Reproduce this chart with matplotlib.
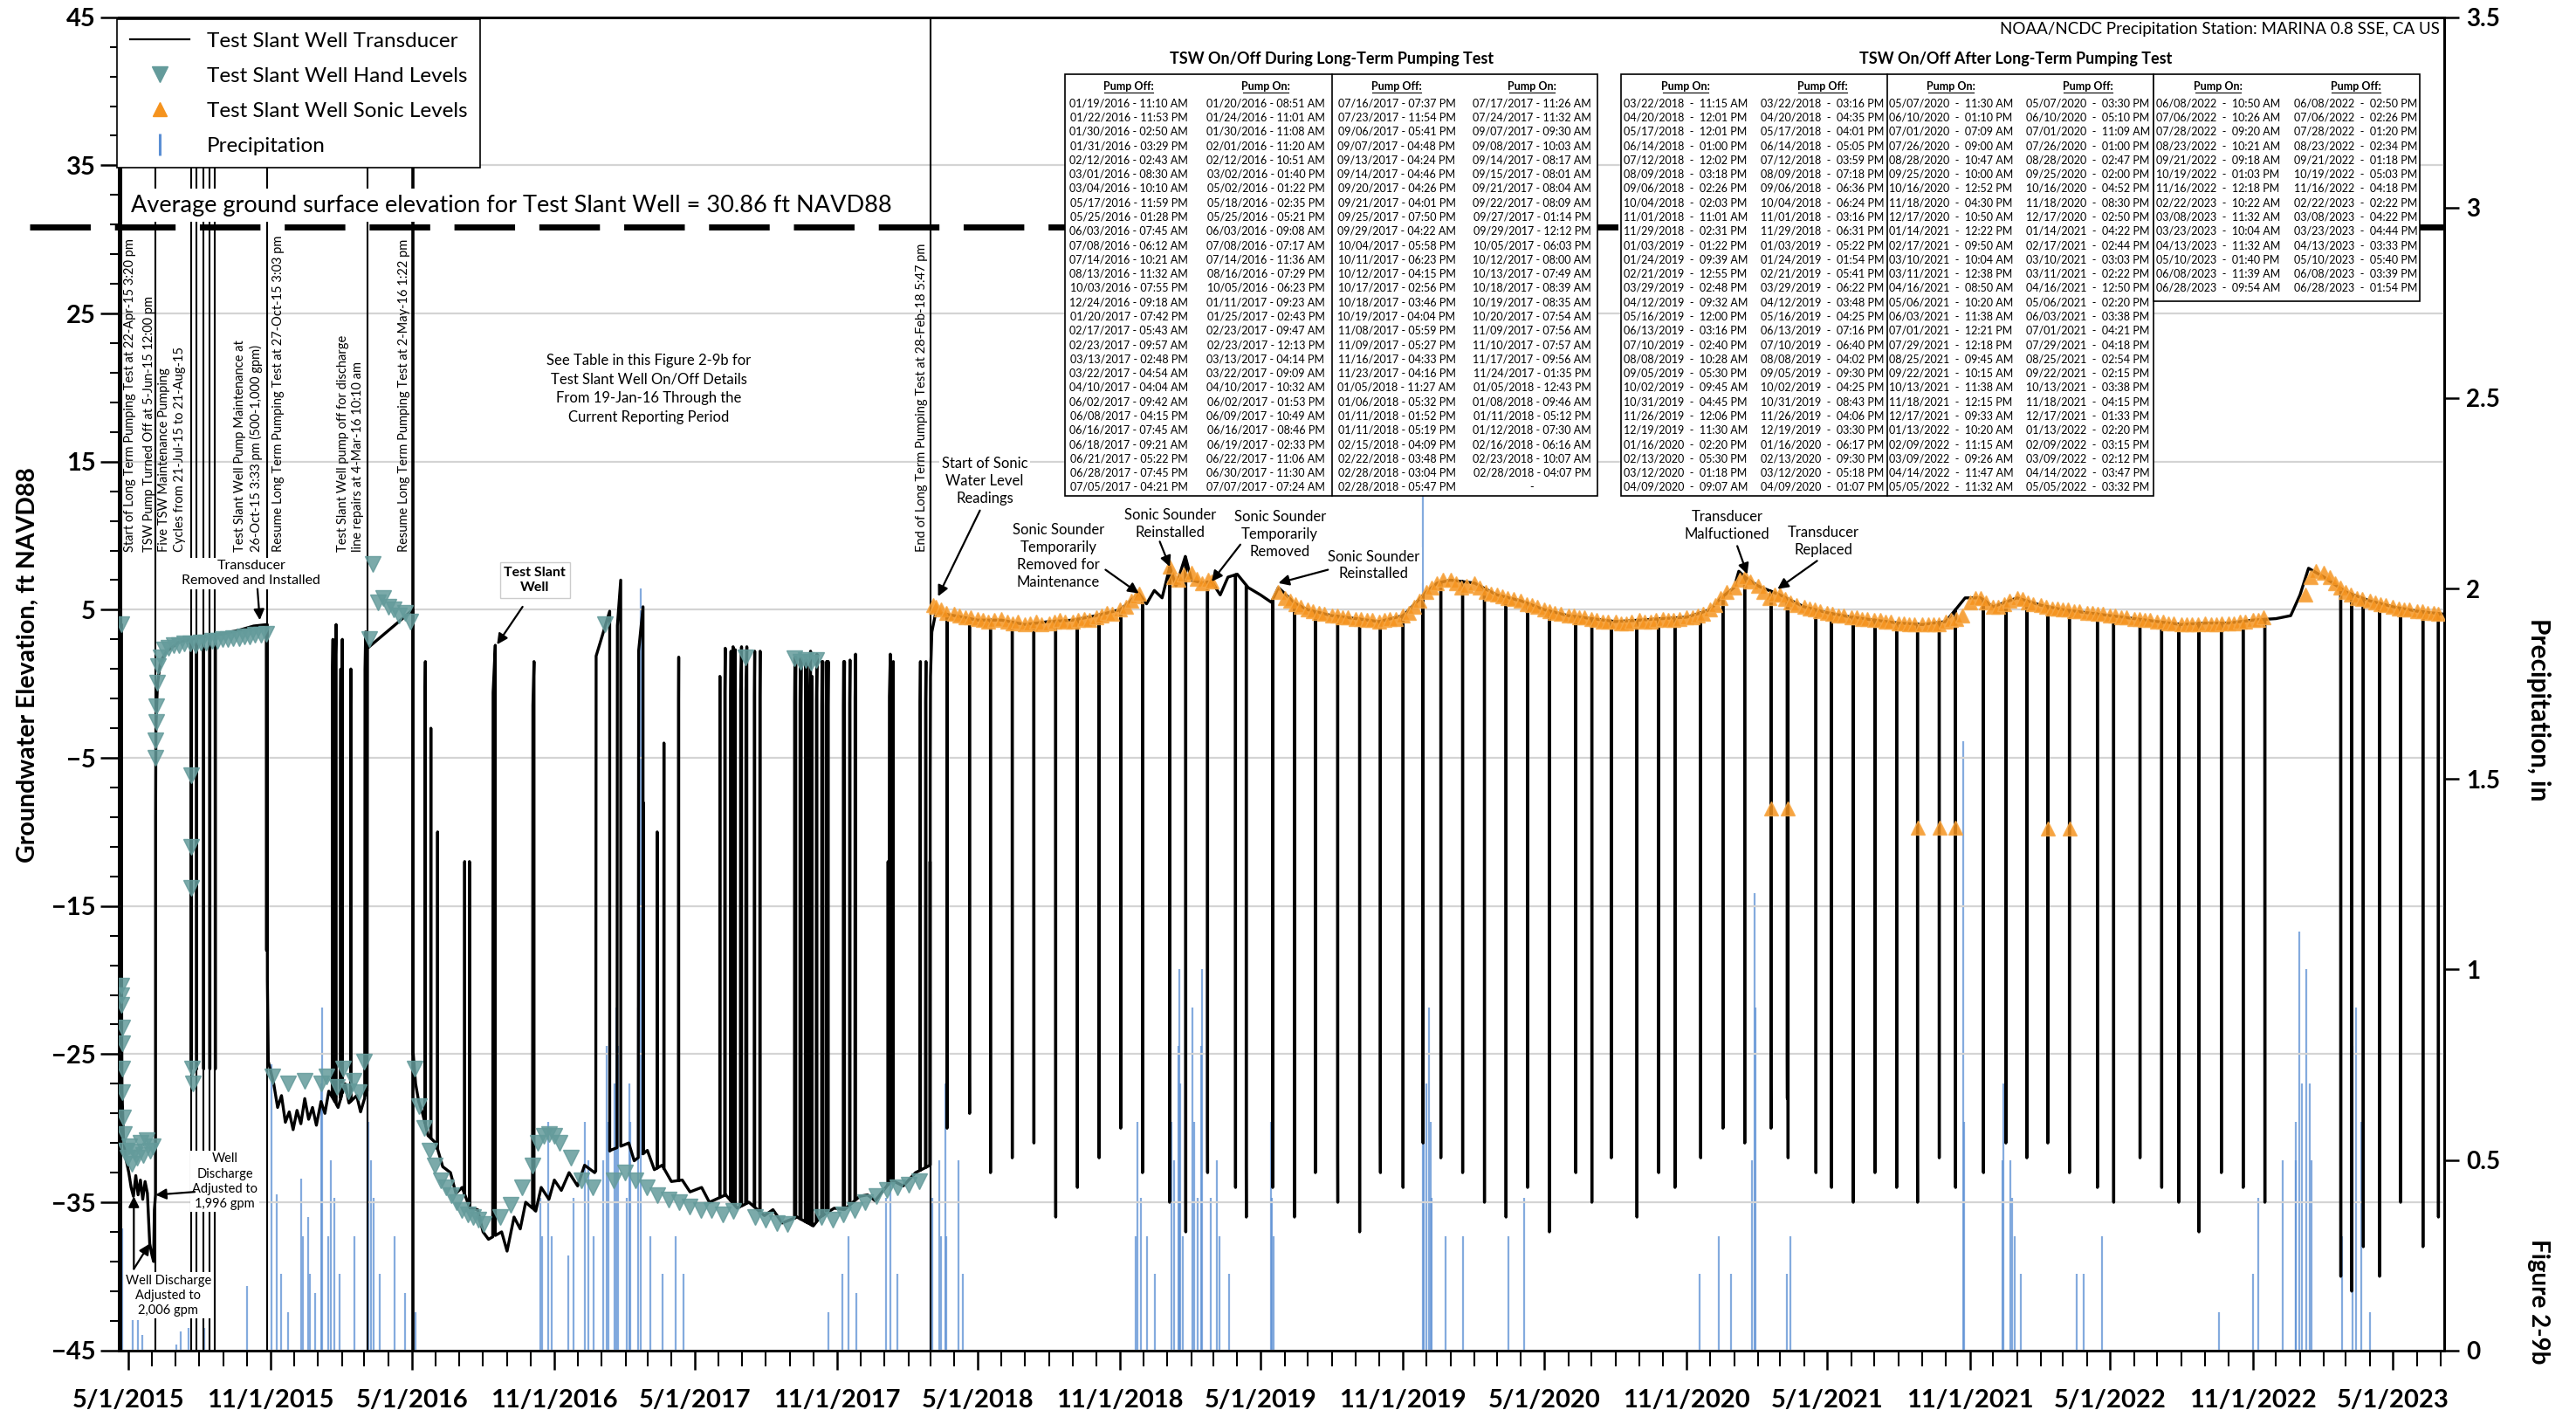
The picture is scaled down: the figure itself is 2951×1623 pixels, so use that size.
import matplotlib
matplotlib.use("Agg")
import matplotlib.pyplot as plt
import matplotlib.dates as mdates
import matplotlib.ticker as mticker
from matplotlib.lines import Line2D
from matplotlib.patches import Rectangle
import numpy as np
import pandas as pd

plt.rcParams['font.family'] = ['Lato', 'DejaVu Sans']

W, H = 2951, 1623

# ---------------- transducer baseline, ft NAVD88 ----------------
tsw_dates = [
    "2015-04-19", "2015-04-22 15:00", "2015-04-22 19:00", "2015-04-23 06:00", "2015-04-25", "2015-04-28",
    "2015-05-02", "2015-05-05", "2015-05-08", "2015-05-11", "2015-05-14", "2015-05-17", "2015-05-20",
    "2015-05-23", "2015-05-26", "2015-05-29", "2015-06-01", "2015-06-03", "2015-06-04", "2015-06-05 11:00",
    "2015-06-05 14:00", "2015-06-06", "2015-06-08", "2015-06-12", "2015-06-20", "2015-07-05", "2015-07-20",
    "2015-08-10", "2015-09-01", "2015-09-20", "2015-10-10", "2015-10-27 15:00", "2015-10-27 19:00",
    "2015-10-29", "2015-11-05", "2015-11-10", "2015-11-15", "2015-11-20", "2015-11-25", "2015-11-30",
    "2015-12-05", "2015-12-10", "2015-12-15", "2015-12-20", "2015-12-25", "2015-12-30",
    "2016-01-05", "2016-01-10", "2016-01-15", "2016-01-27", "2016-02-05", "2016-02-10", "2016-02-20",
    "2016-02-25", "2016-03-04", "2016-05-03", "2016-05-06", "2016-05-10",
    "2016-05-15", "2016-05-22", "2016-06-01", "2016-06-10", "2016-06-20", "2016-06-27", "2016-07-05",
    "2016-07-15", "2016-07-25", "2016-08-01", "2016-08-08", "2016-08-25", "2016-09-01",
    "2016-09-10", "2016-09-18", "2016-09-25", "2016-10-08", "2016-10-15", "2016-10-25", "2016-11-01",
    "2016-11-10", "2016-11-20", "2016-12-01", "2016-12-10", "2016-12-23",
    "2017-01-12", "2017-02-05", "2017-02-12", "2017-03-01", "2017-03-10", "2017-03-20", "2017-04-01",
    "2017-04-15", "2017-04-25", "2017-05-10", "2017-05-20", "2017-06-10", "2017-06-25", "2017-07-10",
    "2017-07-30", "2017-08-10", "2017-08-22", "2017-09-10", "2017-10-01", "2017-10-10", "2017-10-28",
    "2017-11-10", "2017-11-30", "2017-12-10", "2017-12-20", "2018-01-10", "2018-01-25",
    "2018-02-10", "2018-02-28 17:45", "2018-02-28 21:00", "2018-03-01 06:00", "2018-03-03", "2018-03-08",
    "2018-04-01", "2018-05-01", "2018-06-01", "2018-07-01", "2018-08-01", "2018-09-01", "2018-10-01",
    "2018-11-01", "2018-11-25", "2018-12-05", "2018-12-15", "2018-12-25", "2019-01-04", "2019-01-12",
    "2019-01-24", "2019-02-01", "2019-02-15", "2019-02-27", "2019-03-10", "2019-03-20", "2019-04-01",
    "2019-04-15", "2019-05-01", "2019-05-15", "2019-05-24", "2019-06-15", "2019-07-01", "2019-08-01",
    "2019-09-01", "2019-10-01", "2019-11-01", "2019-12-01", "2019-12-15", "2020-01-01", "2020-02-01",
    "2020-03-01", "2020-04-01", "2020-05-01", "2020-06-01", "2020-07-01", "2020-08-01", "2020-09-01",
    "2020-10-01", "2020-11-01", "2020-12-01", "2020-12-15", "2021-01-01", "2021-01-07", "2021-01-15",
    "2021-02-01", "2021-03-01", "2021-04-01", "2021-05-01", "2021-06-01", "2021-07-01", "2021-08-01",
    "2021-09-01", "2021-10-01", "2021-10-26", "2021-11-15", "2021-12-01", "2022-01-01", "2022-02-01",
    "2022-03-01", "2022-04-01", "2022-05-01", "2022-06-01", "2022-07-01", "2022-08-01", "2022-09-01",
    "2022-10-01", "2022-11-01", "2022-12-01", "2022-12-20", "2023-01-01", "2023-01-12", "2023-02-01",
    "2023-03-01", "2023-04-01", "2023-05-01", "2023-06-01", "2023-07-06"]
tsw_levels = [
    4.0, 4.0, -22.0, -27.5, -30.5, -32.0,
    -33.0, -34.0, -34.6, -33.2, -34.5, -33.5, -34.8,
    -33.6, -34.4, -37.8, -38.6, -39.0, -35.5, -34.5,
    -9.0, -3.0, 0.0, 1.5, 2.2, 2.8, 3.0,
    3.2, 3.4, 3.6, 3.9, 4.0, -20.0,
    -25.5, -27.0, -28.6, -27.8, -29.6, -28.9, -30.1,
    -28.8, -29.7, -28.0, -29.4, -28.6, -29.8,
    -28.2, -29.0, -27.5, -28.6, -27.0, -28.3, -27.8,
    -28.9, -27.5, -25.0, -27.0, -28.2,
    -29.0, -30.5, -31.0, -32.6, -33.0, -34.4, -34.0,
    -35.4, -35.5, -37.0, -37.5, -37.0, -38.3,
    -36.0, -36.8, -35.0, -35.6, -34.0, -34.8, -33.5,
    -34.2, -33.0, -33.9, -32.5, -33.0,
    -31.5, -31.0, -32.2, -31.5, -32.8, -32.5, -33.6,
    -33.5, -34.3, -34.0, -35.0, -34.5, -35.4, -35.0,
    -35.9, -35.5, -36.4, -36.0, -36.6, -36.0, -35.4,
    -35.5, -34.6, -34.5, -34.9, -33.5, -33.9,
    -33.0, -32.5, -6.0, 0.5, 3.5, 4.8,
    4.6, 4.3, 4.3, 4.0, 4.2, 4.3, 4.6,
    5.0, 6.1, 5.4, 6.3, 5.8, 7.9, 6.6,
    8.6, 7.0, 6.8, 6.9, 6.0, 7.2, 7.4,
    6.5, 6.0, 5.5, 6.5, 5.4, 5.0, 4.6,
    4.4, 4.2, 4.6, 6.2, 6.8, 7.0, 6.8,
    6.0, 5.6, 5.0, 4.6, 4.4, 4.2, 4.3,
    4.4, 4.5, 5.0, 5.8, 6.5, 7.6, 7.2,
    6.6, 6.0, 5.2, 4.8, 4.5, 4.3, 4.1,
    4.0, 4.2, 5.8, 5.8, 5.2, 5.8, 5.3,
    5.0, 4.8, 4.6, 4.4, 4.2, 4.0, 4.1,
    4.1, 4.3, 4.4, 4.6, 6.0, 7.8, 7.2,
    6.2, 5.6, 5.2, 4.9, 4.7]

# ---------------- pump on/off tables ----------------
t1_off_a = ["01/19/2016 - 11:10 AM", "01/22/2016 - 11:53 PM", "01/30/2016 - 02:50 AM", "01/31/2016 - 03:29 PM",
            "02/12/2016 - 02:43 AM", "03/01/2016 - 08:30 AM", "03/04/2016 - 10:10 AM", "05/17/2016 - 11:59 PM",
            "05/25/2016 - 01:28 PM", "06/03/2016 - 07:45 AM", "07/08/2016 - 06:12 AM", "07/14/2016 - 10:21 AM",
            "08/13/2016 - 11:32 AM", "10/03/2016 - 07:55 PM", "12/24/2016 - 09:18 AM", "01/20/2017 - 07:42 PM",
            "02/17/2017 - 05:43 AM", "02/23/2017 - 09:57 AM", "03/13/2017 - 02:48 PM", "03/22/2017 - 04:54 AM",
            "04/10/2017 - 04:04 AM", "06/02/2017 - 09:42 AM", "06/08/2017 - 04:15 PM", "06/16/2017 - 07:45 AM",
            "06/18/2017 - 09:21 AM", "06/21/2017 - 05:22 PM", "06/28/2017 - 07:45 PM", "07/05/2017 - 04:21 PM"]
t1_on_a = ["01/20/2016 - 08:51 AM", "01/24/2016 - 11:01 AM", "01/30/2016 - 11:08 AM", "02/01/2016 - 11:20 AM",
           "02/12/2016 - 10:51 AM", "03/02/2016 - 01:40 PM", "05/02/2016 - 01:22 PM", "05/18/2016 - 02:35 PM",
           "05/25/2016 - 05:21 PM", "06/03/2016 - 09:08 AM", "07/08/2016 - 07:17 AM", "07/14/2016 - 11:36 AM",
           "08/16/2016 - 07:29 PM", "10/05/2016 - 06:23 PM", "01/11/2017 - 09:23 AM", "01/25/2017 - 02:43 PM",
           "02/23/2017 - 09:47 AM", "02/23/2017 - 12:13 PM", "03/13/2017 - 04:14 PM", "03/22/2017 - 09:09 AM",
           "04/10/2017 - 10:32 AM", "06/02/2017 - 01:53 PM", "06/09/2017 - 10:49 AM", "06/16/2017 - 08:46 PM",
           "06/19/2017 - 02:33 PM", "06/22/2017 - 11:06 AM", "06/30/2017 - 11:30 AM", "07/07/2017 - 07:24 AM"]
t1_off_b = ["07/16/2017 - 07:37 PM", "07/23/2017 - 11:54 PM", "09/06/2017 - 05:41 PM", "09/07/2017 - 04:48 PM",
            "09/13/2017 - 04:24 PM", "09/14/2017 - 04:46 PM", "09/20/2017 - 04:26 PM", "09/21/2017 - 04:01 PM",
            "09/25/2017 - 07:50 PM", "09/29/2017 - 04:22 AM", "10/04/2017 - 05:58 PM", "10/11/2017 - 06:23 PM",
            "10/12/2017 - 04:15 PM", "10/17/2017 - 02:56 PM", "10/18/2017 - 03:46 PM", "10/19/2017 - 04:04 PM",
            "11/08/2017 - 05:59 PM", "11/09/2017 - 05:27 PM", "11/16/2017 - 04:33 PM", "11/23/2017 - 04:16 PM",
            "01/05/2018 - 11:27 AM", "01/06/2018 - 05:32 PM", "01/11/2018 - 01:52 PM", "01/11/2018 - 05:19 PM",
            "02/15/2018 - 04:09 PM", "02/22/2018 - 03:48 PM", "02/28/2018 - 03:04 PM", "02/28/2018 - 05:47 PM"]
t1_on_b = ["07/17/2017 - 11:26 AM", "07/24/2017 - 11:32 AM", "09/07/2017 - 09:30 AM", "09/08/2017 - 10:03 AM",
           "09/14/2017 - 08:17 AM", "09/15/2017 - 08:01 AM", "09/21/2017 - 08:04 AM", "09/22/2017 - 08:09 AM",
           "09/27/2017 - 01:14 PM", "09/29/2017 - 12:12 PM", "10/05/2017 - 06:03 PM", "10/12/2017 - 08:00 AM",
           "10/13/2017 - 07:49 AM", "10/18/2017 - 08:39 AM", "10/19/2017 - 08:35 AM", "10/20/2017 - 07:54 AM",
           "11/09/2017 - 07:56 AM", "11/10/2017 - 07:57 AM", "11/17/2017 - 09:56 AM", "11/24/2017 - 01:35 PM",
           "01/05/2018 - 12:43 PM", "01/08/2018 - 09:46 AM", "01/11/2018 - 05:12 PM", "01/12/2018 - 07:30 AM",
           "02/16/2018 - 06:16 AM", "02/23/2018 - 10:07 AM", "02/28/2018 - 04:07 PM", "-"]
# level reached before each pump restart (ft)
rec_peak = [3.0, 4.0, 1.0, 3.0, 1.0, 3.5, 5.0, 1.5, -3.0, -10.0, -12.0, -12.0, 2.6, 1.5, 4.9, 7.0,
            5.2, -8.0, -10.0, -4.0, 1.8, 0.5, 2.4, 2.2, 2.5, 2.3, 2.5, 2.5,
            2.2, 2.2, 1.8, 1.8, 1.7, 1.7, 1.6, 1.6, 2.2, 0.5, 2.0, 1.5, 1.5, 1.5, 1.5, 1.5,
            1.5, 1.5, 1.6, 2.0, -12.0, 2.0, -3.0, 1.5, 1.5, 1.5, -12.0]

t2_on_a = ["03/22/2018 - 11:15 AM", "04/20/2018 - 12:01 PM", "05/17/2018 - 12:01 PM", "06/14/2018 - 01:00 PM",
           "07/12/2018 - 12:02 PM", "08/09/2018 - 03:18 PM", "09/06/2018 - 02:26 PM", "10/04/2018 - 02:03 PM",
           "11/01/2018 - 11:01 AM", "11/29/2018 - 02:31 PM", "01/03/2019 - 01:22 PM", "01/24/2019 - 09:39 AM",
           "02/21/2019 - 12:55 PM", "03/29/2019 - 02:48 PM", "04/12/2019 - 09:32 AM", "05/16/2019 - 12:00 PM",
           "06/13/2019 - 03:16 PM", "07/10/2019 - 02:40 PM", "08/08/2019 - 10:28 AM", "09/05/2019 - 05:30 PM",
           "10/02/2019 - 09:45 AM", "10/31/2019 - 04:45 PM", "11/26/2019 - 12:06 PM", "12/19/2019 - 11:30 AM",
           "01/16/2020 - 02:20 PM", "02/13/2020 - 05:30 PM", "03/12/2020 - 01:18 PM", "04/09/2020 - 09:07 AM"]
t2_off_a = ["03/22/2018 - 03:16 PM", "04/20/2018 - 04:35 PM", "05/17/2018 - 04:01 PM", "06/14/2018 - 05:05 PM",
            "07/12/2018 - 03:59 PM", "08/09/2018 - 07:18 PM", "09/06/2018 - 06:36 PM", "10/04/2018 - 06:24 PM",
            "11/01/2018 - 03:16 PM", "11/29/2018 - 06:31 PM", "01/03/2019 - 05:22 PM", "01/24/2019 - 01:54 PM",
            "02/21/2019 - 05:41 PM", "03/29/2019 - 06:22 PM", "04/12/2019 - 03:48 PM", "05/16/2019 - 04:25 PM",
            "06/13/2019 - 07:16 PM", "07/10/2019 - 06:40 PM", "08/08/2019 - 04:02 PM", "09/05/2019 - 09:30 PM",
            "10/02/2019 - 04:25 PM", "10/31/2019 - 08:43 PM", "11/26/2019 - 04:06 PM", "12/19/2019 - 03:30 PM",
            "01/16/2020 - 06:17 PM", "02/13/2020 - 09:30 PM", "03/12/2020 - 05:18 PM", "04/09/2020 - 01:07 PM"]
t2_on_b = ["05/07/2020 - 11:30 AM", "06/10/2020 - 01:10 PM", "07/01/2020 - 07:09 AM", "07/26/2020 - 09:00 AM",
           "08/28/2020 - 10:47 AM", "09/25/2020 - 10:00 AM", "10/16/2020 - 12:52 PM", "11/18/2020 - 04:30 PM",
           "12/17/2020 - 10:50 AM", "01/14/2021 - 12:22 PM", "02/17/2021 - 09:50 AM", "03/10/2021 - 10:04 AM",
           "03/11/2021 - 12:38 PM", "04/16/2021 - 08:50 AM", "05/06/2021 - 10:20 AM", "06/03/2021 - 11:38 AM",
           "07/01/2021 - 12:21 PM", "07/29/2021 - 12:18 PM", "08/25/2021 - 09:45 AM", "09/22/2021 - 10:15 AM",
           "10/13/2021 - 11:38 AM", "11/18/2021 - 12:15 PM", "12/17/2021 - 09:33 AM", "01/13/2022 - 10:20 AM",
           "02/09/2022 - 11:15 AM", "03/09/2022 - 09:26 AM", "04/14/2022 - 11:47 AM", "05/05/2022 - 11:32 AM"]
t2_off_b = ["05/07/2020 - 03:30 PM", "06/10/2020 - 05:10 PM", "07/01/2020 - 11:09 AM", "07/26/2020 - 01:00 PM",
            "08/28/2020 - 02:47 PM", "09/25/2020 - 02:00 PM", "10/16/2020 - 04:52 PM", "11/18/2020 - 08:30 PM",
            "12/17/2020 - 02:50 PM", "01/14/2021 - 04:22 PM", "02/17/2021 - 02:44 PM", "03/10/2021 - 03:03 PM",
            "03/11/2021 - 02:22 PM", "04/16/2021 - 12:50 PM", "05/06/2021 - 02:20 PM", "06/03/2021 - 03:38 PM",
            "07/01/2021 - 04:21 PM", "07/29/2021 - 04:18 PM", "08/25/2021 - 02:54 PM", "09/22/2021 - 02:15 PM",
            "10/13/2021 - 03:38 PM", "11/18/2021 - 04:15 PM", "12/17/2021 - 01:33 PM", "01/13/2022 - 02:20 PM",
            "02/09/2022 - 03:15 PM", "03/09/2022 - 02:12 PM", "04/14/2022 - 03:47 PM", "05/05/2022 - 03:32 PM"]
t2_on_c = ["06/08/2022 - 10:50 AM", "07/06/2022 - 10:26 AM", "07/28/2022 - 09:20 AM", "08/23/2022 - 10:21 AM",
           "09/21/2022 - 09:18 AM", "10/19/2022 - 01:03 PM", "11/16/2022 - 12:18 PM", "02/22/2023 - 10:22 AM",
           "03/08/2023 - 11:32 AM", "03/23/2023 - 10:04 AM", "04/13/2023 - 11:32 AM", "05/10/2023 - 01:40 PM",
           "06/08/2023 - 11:39 AM", "06/28/2023 - 09:54 AM"]
t2_off_c = ["06/08/2022 - 02:50 PM", "07/06/2022 - 02:26 PM", "07/28/2022 - 01:20 PM", "08/23/2022 - 02:34 PM",
            "09/21/2022 - 01:18 PM", "10/19/2022 - 05:03 PM", "11/16/2022 - 04:18 PM", "02/22/2023 - 02:22 PM",
            "03/08/2023 - 04:22 PM", "03/23/2023 - 04:44 PM", "04/13/2023 - 03:33 PM", "05/10/2023 - 05:40 PM",
            "06/08/2023 - 03:39 PM", "06/28/2023 - 01:54 PM"]
# lowest level at end of each post-test pumping cycle (ft)
drop_low = [-30, -29, -33, -32, -31, -36, -34, -32, -30, -33, -35, -37, -33, -34, -36, -34, -36, -33, -35, -37,
            -33, -34, -31, -32, -33, -35, -36, -34,
            -37, -33, -35, -32, -36, -33, -34, -32, -30, -31, -30, -28, -32, -33, -34, -35, -33, -34, -35, -32,
            -34, -33, -31, -32, -31, -33, -34, -35,
            -32, -34, -35, -37, -33, -34, -35, -40, -41, -38, -40, -35, -38, -36]

# 2015 maintenance pumping cycles
maint_on = ["2015-07-21 10:00", "2015-07-28 10:00", "2015-08-06 10:00", "2015-08-14 10:00", "2015-08-21 10:00",
            "2015-10-26 15:33"]
maint_off = ["2015-07-21 14:00", "2015-07-28 14:00", "2015-08-06 14:00", "2015-08-14 14:00", "2015-08-21 14:00",
             "2015-10-26 19:00"]
maint_low = [-26, -26, -26, -26, -26, -18]

# ---------------- hand levels ----------------
hand_dates = [
    "2015-04-22 14:00", "2015-04-22 17:00", "2015-04-22 19:00", "2015-04-22 21:00", "2015-04-23 02:00",
    "2015-04-23 08:00", "2015-04-23 16:00", "2015-04-24", "2015-04-25", "2015-04-26", "2015-04-28", "2015-04-30",
    "2015-05-03", "2015-05-06", "2015-05-09", "2015-05-13", "2015-05-17", "2015-05-21", "2015-05-25", "2015-05-29",
    "2015-06-02", "2015-06-05 15:00", "2015-06-05 20:00", "2015-06-06 06:00", "2015-06-06 18:00", "2015-06-07",
    "2015-06-09", "2015-06-12", "2015-06-16", "2015-06-22", "2015-06-29", "2015-07-06", "2015-07-13", "2015-07-20",
    "2015-07-21 14:00", "2015-07-21 18:00", "2015-07-22", "2015-07-23", "2015-07-24", "2015-07-27", "2015-08-03",
    "2015-08-10", "2015-08-17", "2015-08-24", "2015-08-31", "2015-09-07", "2015-09-14", "2015-09-21", "2015-09-28",
    "2015-10-05", "2015-10-12", "2015-10-19", "2015-10-26", "2015-11-03", "2015-11-24", "2015-12-15",
    "2016-01-05", "2016-01-12", "2016-01-26", "2016-02-02", "2016-02-09", "2016-02-16", "2016-02-23", "2016-03-01",
    "2016-03-07", "2016-03-12", "2016-03-18", "2016-03-25", "2016-04-01", "2016-04-08", "2016-04-15", "2016-04-22",
    "2016-04-29", "2016-05-05", "2016-05-10", "2016-05-17", "2016-05-24", "2016-05-31", "2016-06-07", "2016-06-14",
    "2016-06-21", "2016-06-28", "2016-07-05", "2016-07-12", "2016-07-19", "2016-07-26", "2016-08-02", "2016-08-23",
    "2016-09-06", "2016-09-20", "2016-10-04", "2016-10-11", "2016-10-18", "2016-10-25", "2016-11-01", "2016-11-08",
    "2016-11-22", "2016-12-06", "2016-12-20", "2017-01-05", "2017-01-17", "2017-01-31", "2017-02-14", "2017-02-28",
    "2017-03-14", "2017-03-28", "2017-04-11", "2017-04-25", "2017-05-09", "2017-05-23", "2017-06-06", "2017-06-20",
    "2017-07-06", "2017-07-18", "2017-08-01", "2017-08-15", "2017-08-29", "2017-09-07", "2017-09-14", "2017-09-21",
    "2017-09-28", "2017-10-05", "2017-10-12", "2017-10-26", "2017-11-09", "2017-11-23", "2017-12-07", "2017-12-21",
    "2018-01-04", "2018-01-18", "2018-02-01", "2018-02-15"]
hand_levels = [
    4.0, -20.4, -21.0, -21.7, -23.2,
    -24.3, -26.0, -27.6, -29.3, -30.4, -31.5, -32.0,
    -31.2, -32.4, -31.6, -32.0, -31.0, -31.8, -30.8, -31.5,
    -31.2, -5.0, -3.8, -2.6, -1.5, 0.1,
    1.2, 1.8, 2.3, 2.4, 2.6, 2.6, 2.7, 2.7,
    -6.2, -11.0, -13.8, -26.0, -27.0, 2.6, 2.8,
    2.8, 2.9, 2.9, 3.0, 3.0, 3.1, 3.1, 3.2,
    3.2, 3.3, 3.3, 3.4, -26.5, -27.0, -26.8,
    -27.0, -26.5, -27.2, -26.0, -27.5, -26.8, -27.6, -25.5,
    3.0, 8.1, 5.5, 5.8, 5.2, 5.0, 4.6, 4.8,
    4.2, -26.0, -28.5, -30.0, -31.5, -32.5, -33.5, -34.0,
    -34.5, -35.0, -35.5, -35.8, -36.0, -36.2, -36.5, -36.0,
    -35.2, -34.0, -32.5, -31.0, -30.5, -30.4, -30.5, -31.0,
    -32.0, -33.5, -34.0, 4.0, -33.5, -33.0, -33.5, -34.0,
    -34.5, -34.8, -35.0, -35.3, -35.5, -35.5, -35.8, -35.6,
    1.8, -36.0, -36.2, -36.4, -36.5, 1.7, 1.5, 1.6,
    1.4, 1.6, -36.0, -36.2, -35.8, -35.5, -35.0, -34.6,
    -34.2, -34.0, -33.8, -33.6]

# ---------------- sonic levels (about weekly) ----------------
sonic_dates = [
    "2018-03-05", "2018-03-08", "2018-03-15", "2018-03-22", "2018-04-01", "2018-04-08", "2018-04-15", "2018-04-22",
    "2018-05-01", "2018-05-08", "2018-05-15", "2018-05-22", "2018-06-01", "2018-06-08", "2018-06-15", "2018-06-22",
    "2018-07-01", "2018-07-08", "2018-07-15", "2018-07-22", "2018-08-01", "2018-08-08", "2018-08-15", "2018-08-22",
    "2018-09-01", "2018-09-08", "2018-09-15", "2018-09-22", "2018-10-01", "2018-10-08", "2018-10-15", "2018-10-22",
    "2018-11-01", "2018-11-08", "2018-11-15", "2018-11-22", "2018-11-25",
    "2019-01-04", "2019-01-08", "2019-01-15", "2019-01-22", "2019-02-01", "2019-02-08", "2019-02-15", "2019-02-22",
    "2019-02-27",
    "2019-05-24", "2019-06-01", "2019-06-08", "2019-06-15", "2019-06-22", "2019-07-01", "2019-07-08", "2019-07-15",
    "2019-07-22", "2019-08-01", "2019-08-08", "2019-08-15", "2019-08-22", "2019-09-01", "2019-09-08", "2019-09-15",
    "2019-09-22", "2019-10-01", "2019-10-08", "2019-10-15", "2019-10-22", "2019-11-01", "2019-11-08", "2019-11-15",
    "2019-11-22", "2019-12-01", "2019-12-08", "2019-12-15", "2019-12-22",
    "2020-01-01", "2020-01-08", "2020-01-15", "2020-01-22", "2020-02-01", "2020-02-08", "2020-02-15", "2020-02-22",
    "2020-03-01", "2020-03-08", "2020-03-15", "2020-03-22", "2020-04-01", "2020-04-08", "2020-04-15", "2020-04-22",
    "2020-05-01", "2020-05-08", "2020-05-15", "2020-05-22", "2020-06-01", "2020-06-08", "2020-06-15", "2020-06-22",
    "2020-07-01", "2020-07-08", "2020-07-15", "2020-07-22", "2020-08-01", "2020-08-08", "2020-08-15", "2020-08-22",
    "2020-09-01", "2020-09-08", "2020-09-15", "2020-09-22", "2020-10-01", "2020-10-08", "2020-10-15", "2020-10-22",
    "2020-11-01", "2020-11-08", "2020-11-15", "2020-11-22", "2020-12-01", "2020-12-08", "2020-12-15", "2020-12-22",
    "2021-01-01", "2021-01-08", "2021-01-15", "2021-01-22", "2021-02-01", "2021-02-08", "2021-02-15", "2021-02-22",
    "2021-03-01", "2021-03-08", "2021-03-15", "2021-03-22", "2021-04-01", "2021-04-08", "2021-04-15", "2021-04-22",
    "2021-05-01", "2021-05-08", "2021-05-15", "2021-05-22", "2021-06-01", "2021-06-08", "2021-06-15", "2021-06-22",
    "2021-07-01", "2021-07-08", "2021-07-15", "2021-07-22", "2021-08-01", "2021-08-08", "2021-08-15", "2021-08-22",
    "2021-09-01", "2021-09-08", "2021-09-15", "2021-09-22", "2021-10-01", "2021-10-08", "2021-10-15", "2021-10-22",
    "2021-11-01", "2021-11-08", "2021-11-15", "2021-11-22", "2021-12-01", "2021-12-08", "2021-12-15", "2021-12-22",
    "2022-01-01", "2022-01-08", "2022-01-15", "2022-01-22", "2022-02-01", "2022-02-08", "2022-02-15", "2022-02-22",
    "2022-03-01", "2022-03-08", "2022-03-15", "2022-03-22", "2022-04-01", "2022-04-08", "2022-04-15", "2022-04-22",
    "2022-05-01", "2022-05-08", "2022-05-15", "2022-05-22", "2022-06-01", "2022-06-08", "2022-06-15", "2022-06-22",
    "2022-07-01", "2022-07-08", "2022-07-15", "2022-07-22", "2022-08-01", "2022-08-08", "2022-08-15", "2022-08-22",
    "2022-09-01", "2022-09-08", "2022-09-15", "2022-09-22", "2022-10-01", "2022-10-08", "2022-10-15", "2022-10-22",
    "2022-11-01", "2022-11-08", "2022-11-15",
    "2023-01-08", "2023-01-15", "2023-01-22", "2023-02-01", "2023-02-08", "2023-02-15", "2023-02-22",
    "2023-03-01", "2023-03-08", "2023-03-15", "2023-03-22", "2023-04-01", "2023-04-08", "2023-04-15", "2023-04-22",
    "2023-05-01", "2023-05-08", "2023-05-15", "2023-05-22", "2023-06-01", "2023-06-08", "2023-06-15", "2023-06-22",
    "2023-06-28",
    # readings taken while the well was pumping
    "2021-02-17 14:00", "2021-03-11 14:00", "2021-08-25 14:00", "2021-09-22 14:00", "2021-10-13 14:00",
    "2022-02-09 14:00", "2022-03-09 14:00"]
sonic_levels = [
    5.3, 5.2, 5.0, 4.8, 4.7, 4.6, 4.5, 4.5,
    4.4, 4.3, 4.2, 4.3, 4.4, 4.2, 4.1, 4.2,
    4.0, 4.1, 4.2, 4.0, 4.1, 4.2, 4.3, 4.2,
    4.2, 4.3, 4.4, 4.3, 4.5, 4.6, 4.8, 4.7,
    5.0, 5.2, 5.6, 5.9, 6.1,
    7.9, 7.2, 7.0, 7.4, 7.5, 7.1, 6.8, 7.0,
    6.9,
    6.2, 5.8, 5.6, 5.4, 5.2, 5.0, 4.9, 4.8,
    4.7, 4.6, 4.6, 4.5, 4.5, 4.4, 4.4, 4.3,
    4.3, 4.2, 4.3, 4.4, 4.4, 4.6, 4.8, 5.2,
    5.6, 6.2, 6.5, 6.8, 7.0,
    7.0, 6.8, 6.5, 6.6, 6.8, 6.5, 6.2, 6.1,
    6.0, 5.9, 5.8, 5.7, 5.6, 5.4, 5.3, 5.2,
    5.0, 4.9, 4.8, 4.7, 4.6, 4.6, 4.5, 4.5,
    4.4, 4.3, 4.2, 4.2, 4.2, 4.1, 4.1, 4.2,
    4.3, 4.2, 4.2, 4.3, 4.4, 4.3, 4.3, 4.4,
    4.5, 4.5, 4.6, 4.7, 5.0, 5.3, 5.8, 6.2,
    6.5, 7.0, 7.2, 6.9, 6.6, 6.2, 5.8, 6.0,
    6.0, 5.7, 5.5, 5.3, 5.2, 5.1, 5.0, 4.9,
    4.8, 4.7, 4.6, 4.6, 4.5, 4.5, 4.4, 4.4,
    4.3, 4.3, 4.2, 4.2, 4.1, 4.1, 4.0, 4.0,
    4.0, 4.0, 4.0, 4.0, 4.2, 4.3, 4.4, 4.6,
    5.5, 5.8, 5.8, 5.5, 5.2, 5.2, 5.4, 5.6,
    5.8, 5.7, 5.5, 5.4, 5.3, 5.2, 5.1, 5.1,
    5.0, 5.0, 4.9, 4.9, 4.8, 4.8, 4.7, 4.7,
    4.6, 4.6, 4.5, 4.5, 4.4, 4.4, 4.3, 4.3,
    4.2, 4.2, 4.1, 4.1, 4.0, 4.0, 4.0, 4.0,
    4.1, 4.0, 4.0, 4.1, 4.1, 4.1, 4.2, 4.2,
    4.3, 4.3, 4.5,
    6.0, 7.2, 7.6, 7.5, 7.2, 6.8, 6.5,
    6.2, 6.0, 5.8, 5.7, 5.6, 5.5, 5.4, 5.3,
    5.2, 5.1, 5.0, 5.0, 4.9, 4.9, 4.8, 4.8,
    4.7,
    -8.4, -8.4, -9.7, -9.7, -9.7,
    -9.8, -9.8]

# ---------------- precipitation (in) ----------------
precip_dates = [
    "2015-04-24", "2015-05-07", "2015-05-14", "2015-05-19", "2015-07-02", "2015-07-08", "2015-07-18", "2015-08-07",
    "2015-10-01", "2015-11-02", "2015-11-09", "2015-11-15", "2015-11-24", "2015-12-10", "2015-12-13", "2015-12-19",
    "2015-12-22", "2015-12-28", "2016-01-05", "2016-01-06", "2016-01-14", "2016-01-18", "2016-01-22", "2016-01-29",
    "2016-02-17", "2016-03-05", "2016-03-06", "2016-03-10", "2016-03-13", "2016-03-21", "2016-04-09", "2016-04-22",
    "2016-05-06", "2016-10-14", "2016-10-16", "2016-10-24", "2016-10-28", "2016-11-19", "2016-11-26", "2016-12-10",
    "2016-12-15", "2016-12-22", "2017-01-03", "2017-01-08", "2017-01-10", "2017-01-18", "2017-01-20", "2017-01-22",
    "2017-02-02", "2017-02-06", "2017-02-07", "2017-02-17", "2017-02-20", "2017-03-05", "2017-03-21", "2017-04-06",
    "2017-04-17", "2017-10-20", "2017-11-08", "2017-11-16", "2017-11-26", "2018-01-03", "2018-01-08", "2018-01-18",
    "2018-03-01", "2018-03-03", "2018-03-13", "2018-03-15", "2018-03-21", "2018-03-22", "2018-04-06", "2018-04-12",
    "2018-11-21", "2018-11-23", "2018-11-28", "2018-12-06", "2018-12-16", "2019-01-06", "2019-01-09", "2019-01-15",
    "2019-01-16", "2019-01-17", "2019-01-21", "2019-02-02", "2019-02-04", "2019-02-09", "2019-02-13", "2019-02-14",
    "2019-02-26", "2019-03-06", "2019-03-09", "2019-03-21", "2019-05-15", "2019-05-16", "2019-05-18", "2019-11-26",
    "2019-11-27", "2019-12-01", "2019-12-04", "2019-12-07", "2019-12-08", "2019-12-26", "2020-01-17", "2020-03-16",
    "2020-04-05", "2020-11-17", "2020-12-12", "2020-12-28", "2021-01-24", "2021-01-27", "2021-01-28", "2021-03-10",
    "2021-03-15", "2021-10-24", "2021-10-25", "2021-12-13", "2021-12-14", "2021-12-23", "2021-12-26", "2021-12-29",
    "2022-01-06", "2022-03-19", "2022-03-28", "2022-04-21", "2022-09-18", "2022-11-01", "2022-11-08", "2022-12-10",
    "2022-12-26", "2022-12-27", "2022-12-31", "2023-01-04", "2023-01-09", "2023-01-14", "2023-01-16", "2023-02-24",
    "2023-03-10", "2023-03-14", "2023-03-21", "2023-04-01"]
precip_in = [
    0.32, 0.08, 0.08, 0.04, 0.015, 0.05, 0.06, 0.06,
    0.17, 0.75, 0.41, 0.2, 0.1, 0.45, 0.3, 0.35,
    0.2, 0.15, 0.7, 0.9, 0.3, 0.5, 0.4, 0.2,
    0.3, 0.9, 0.6, 0.5, 0.4, 0.2, 0.3, 0.15,
    0.1, 0.4, 0.3, 0.6, 0.3, 0.25, 0.4, 0.6,
    0.5, 0.3, 0.5, 0.8, 0.6, 0.7, 0.9, 0.8,
    0.4, 0.7, 0.6, 0.9, 2.0, 0.3, 0.2, 0.3,
    0.2, 0.1, 0.2, 0.3, 0.15, 0.4, 0.8, 0.2,
    0.6, 0.4, 0.5, 0.3, 0.7, 0.3, 0.5, 0.2,
    0.3, 0.6, 0.4, 0.3, 0.2, 0.6, 0.5, 0.8,
    1.0, 0.7, 0.3, 0.9, 0.6, 0.4, 0.8, 1.0,
    0.4, 0.5, 0.3, 0.2, 0.6, 0.4, 0.3, 2.6,
    1.0, 0.7, 0.9, 0.6, 0.4, 0.3, 0.3, 0.3,
    0.4, 0.2, 0.3, 0.2, 0.5, 1.2, 0.9, 0.2,
    0.3, 1.6, 0.6, 0.5, 0.7, 0.5, 0.4, 0.3,
    0.2, 0.2, 0.2, 0.3, 0.1, 0.2, 0.4, 0.5,
    0.5, 0.6, 1.1, 0.7, 1.0, 0.7, 0.5, 0.3,
    0.8, 0.9, 0.6, 0.1]

# ---------------- event marker lines and notes ----------------
event_dates = ["2015-04-22 15:20", "2015-06-05 12:00", "2015-07-21", "2015-07-28", "2015-08-06", "2015-08-14",
               "2015-08-21", "2015-10-27 15:03", "2016-03-04 10:10", "2016-05-02 13:22", "2018-02-28 17:47"]
event_note_x = ["2015-05-04", "2015-05-28", "2015-06-27", "2015-10-03", "2015-11-11", "2016-02-12",
                "2016-04-21", "2018-02-18"]
event_notes = ["Start of Long Term Pumping Test at 22-Apr-15 3:20 pm",
               "TSW Pump Turned Off at 5-Jun-15 12:00 pm",
               "Five TSW Maintenance Pumping\nCycles from 21-Jul-15 to 21-Aug-15",
               "Test Slant Well Pump Maintenance at\n26-Oct-15 3:33 pm (500-1,000 gpm)",
               "Resume Long Term Pumping Test at 27-Oct-15 3:03 pm",
               "Test Slant Well pump off for discharge\nline repairs at 4-Mar-16 10:10 am",
               "Resume Long Term Pumping Test at 2-May-16 1:22 pm",
               "End of Long Term Pumping Test at 28-Feb-18 5:47 pm"]

ground_elev = 30.86

TEAL = '#649b9b'
ORANGE = '#f5931e'
BLUE = '#5b8fd4'
TFMT = "%m/%d/%Y - %I:%M %p"


def dn(s, fmt='ISO8601'):
    return mdates.date2num(pd.to_datetime(s, format=fmt).to_pydatetime())


# ---------------- build transducer line ----------------
base_x = dn(tsw_dates)
base_y = np.array(tsw_levels, float)


def base_at(x):
    return np.interp(x, base_x, base_y)


events = []
for a, b, p in zip(t1_off_a + t1_off_b, t1_on_a + t1_on_b, rec_peak):
    events.append((dn(a, TFMT), dn(b, TFMT), p))
for a, b, p in zip(maint_on, maint_off, maint_low):
    events.append((dn(a), dn(b), p))
for a, b, p in zip(t2_on_a + t2_on_b + t2_on_c, t2_off_a + t2_off_b + t2_off_c, drop_low):
    events.append((dn(a, TFMT), dn(b, TFMT), p))

keep = np.ones(len(base_x), bool)
for x0, x1, lv in events:
    keep &= ~((base_x >= x0) & (base_x <= x1 + 1 / 24))
pts = list(zip(base_x[keep], base_y[keep]))
for x0, x1, lv in events:
    b0, b1 = base_at(x0), base_at(x1)
    ramp = min(0.3 * (x1 - x0), 0.5)
    pts += [(x0, b0), (x0 + ramp, lv + 0.08 * (b0 - lv)), (x1, lv), (x1 + 1 / 24, b1)]
pts.sort()
line_x = [p[0] for p in pts]
line_y = [p[1] for p in pts]

# ---------------- figure ----------------
fig = plt.figure(figsize=(W / 100, H / 100), dpi=100)
ax = fig.add_axes([136 / W, (H - 1546.7) / H, 2664 / W, 1527 / H])
ax2 = ax.twinx()
ax.set_zorder(2)
ax2.set_zorder(1)
ax.patch.set_visible(False)

x_lo, x_hi = dn("2015-04-19"), dn("2023-07-06")

# precipitation
ax2.vlines(dn(precip_dates), 0, precip_in, color=BLUE, lw=1.6, alpha=0.75)
ax2.set_ylim(0, 3.5)
ax2.yaxis.set_major_locator(mticker.MultipleLocator(0.5))
ax2.yaxis.set_major_formatter(mticker.FormatStrFormatter('%g'))
ax2.tick_params(axis='y', direction='out', length=12, width=1.8, labelsize=20, pad=6)

# event lines
for i, d in enumerate(event_dates):
    ax.axvline(dn(d), color='k', lw=2.6 if i == 9 else 1.5, zorder=2)
for x, t in zip(event_note_x, event_notes):
    ax.text(dn(x), 8.9, t, rotation=90, ha='center', va='bottom', multialignment='left',
            fontsize=10.5, linespacing=1.35, zorder=6)

# ground surface line
ax.plot([dn("2014-12-25"), x_hi], [ground_elev, ground_elev], color='k', lw=5,
        dashes=(10, 4), clip_on=False, zorder=3)

ax.plot(line_x, line_y, color='k', lw=2.4, zorder=3)
ax.plot(dn(hand_dates), hand_levels, ls='none', marker='v', ms=13, color=TEAL, mec=TEAL, alpha=0.85, zorder=4)
ax.plot(dn(sonic_dates), sonic_levels, ls='none', marker='^', ms=11.5, color=ORANGE, mec='#f7a948',
        alpha=0.85, zorder=5)

ax.set_xlim(x_lo, x_hi)
ax.set_ylim(-45, 45)
ax.yaxis.set_major_locator(mticker.FixedLocator(np.arange(-45, 46, 10)))
ax.yaxis.set_minor_locator(mticker.FixedLocator(np.arange(-45, 45.1, 2)))
ax.xaxis.set_major_locator(mdates.MonthLocator(bymonth=[5, 11], bymonthday=1))
ax.xaxis.set_minor_locator(mdates.MonthLocator())
ax.xaxis.set_major_formatter(mticker.FuncFormatter(
    lambda v, p: "{d.month}/{d.day}/{d.year}".format(d=mdates.num2date(v))))
ax.tick_params(axis='y', which='major', direction='out', length=15, width=1.8, labelsize=21, pad=4, right=False)
ax.tick_params(axis='y', which='minor', direction='out', length=7, width=1.5, right=False)
ax.tick_params(axis='x', which='major', direction='out', length=16, width=1.8, labelsize=21, pad=16)
ax.tick_params(axis='x', which='minor', direction='out', length=13, width=1.5)
ax.yaxis.grid(True, which='major', color='#d4d4d4', lw=1.6)
ax.set_axisbelow(True)
for s in list(ax.spines.values()) + list(ax2.spines.values()):
    s.set_linewidth(2)
plt.setp(ax.get_xticklabels() + ax.get_yticklabels() + ax2.get_yticklabels(), fontweight='bold')

# legend
handles = [Line2D([], [], color='k', lw=1.6),
           Line2D([], [], ls='none', marker='v', ms=13, color=TEAL),
           Line2D([], [], ls='none', marker='^', ms=12, color=ORANGE),
           Line2D([], [], ls='none', marker='|', ms=18, mew=2.2, color=BLUE)]
labels = ["Test Slant Well Transducer", "Test Slant Well Hand Levels", "Test Slant Well Sonic Levels",
          "Precipitation"]
leg = ax.legend(handles, labels, loc='upper left', bbox_to_anchor=(-0.0015, 1.0), fontsize=17.5,
                fancybox=False, edgecolor='black', framealpha=1, handlelength=2.8, borderpad=0.6,
                labelspacing=0.78, handletextpad=0.8, borderaxespad=0.1)
leg.get_frame().set_linewidth(1.2)
leg.set_zorder(8)

# annotations
arrow = dict(arrowstyle='-|>', color='k', lw=1.6, mutation_scale=18, shrinkA=0, shrinkB=0)
wbox = dict(boxstyle='square,pad=0.15', fc='white', ec='none')


def note(text, xy_text, xy_tip=None, size=12, bold=False, box=wbox, tail=None):
    tx, ty = dn(xy_text[0]), xy_text[1]
    ax.text(tx, ty, text, ha='center', va='center', fontsize=size, linespacing=1.3,
            fontweight='bold' if bold else 'normal', bbox=box, zorder=7)
    if xy_tip is not None:
        sx, sy = (dn(tail[0]), tail[1]) if tail else (tx, ty)
        ax.annotate('', xy=(dn(xy_tip[0]), xy_tip[1]), xytext=(sx, sy), arrowprops=arrow, zorder=7)


note("Transducer\nRemoved and Installed", ("2015-10-07", 7.45), ("2015-10-18", 4.3), size=11.5,
     tail=("2015-10-15", 6.4))
note("Well\nDischarge\nAdjusted to\n1,996 gpm", ("2015-09-03", -33.6), ("2015-06-05 12:00", -34.5), size=10.5,
     tail=("2015-07-26", -34.3))
note("Well Discharge\nAdjusted to\n2,006 gpm", ("2015-06-22", -41.3), size=10.5)
ax.annotate('', xy=(dn("2015-05-08 12:00"), -34.6), xytext=(dn("2015-05-08 12:00"), -39.5), arrowprops=arrow,
            zorder=7)
ax.annotate('', xy=(dn("2015-05-29"), -37.8), xytext=(dn("2015-05-08 12:00"), -39.5), arrowprops=arrow, zorder=7)
note("Test Slant\nWell", ("2016-10-07", 7.0), ("2016-08-19", 2.65), size=11.5, bold=True,
     box=dict(boxstyle='square,pad=0.3', fc='white', ec='#cccccc', lw=1), tail=("2016-09-21", 5.2))
ax.text(dn("2017-03-03"), 19.9, "See Table in this Figure 2-9b for\nTest Slant Well On/Off Details\n"
        "From 19-Jan-16 Through the\nCurrent Reporting Period", ha='center', va='center', fontsize=12,
        linespacing=1.45, zorder=7)
note("Start of Sonic\nWater Level\nReadings", ("2018-05-10", 13.7), ("2018-03-11", 5.9),
     tail=("2018-05-04", 11.7))
note("Sonic Sounder\nTemporarily\nRemoved for\nMaintenance", ("2018-08-13", 8.6), ("2018-11-25", 6.1),
     tail=("2018-10-13", 7.7))
note("Sonic Sounder\nReinstalled", ("2019-01-04", 10.8), ("2019-01-04", 7.9), tail=("2018-12-22", 9.6))
note("Sonic Sounder\nTemporarily\nRemoved", ("2019-05-26", 10.1), ("2019-02-27", 6.9), tail=("2019-04-05", 9.4))
note("Sonic Sounder\nReinstalled", ("2019-09-24", 8.0), ("2019-05-24", 6.8), tail=("2019-07-27", 7.7))
note("Transducer\nMalfuctioned", ("2020-12-23", 10.7), ("2021-01-18", 7.4), tail=("2021-01-05", 9.3))
note("Transducer\nReplaced", ("2021-04-26", 9.6), ("2021-02-26", 6.4), tail=("2021-04-18", 8.3))

# ---------------- overlay: labels and tables in pixel space ----------------
ov = fig.add_axes([0, 0, 1, 1], zorder=10)
ov.set_xlim(0, W)
ov.set_ylim(H, 0)
ov.axis('off')

ov.text(32, 762, "Groundwater Elevation, ft NAVD88", rotation=90, ha='center', va='center', fontsize=20.5,
        fontweight='bold')
ov.text(2908, 813, "Precipitation, in", rotation=270, ha='center', va='center', fontsize=21.5, fontweight='bold')
ov.text(2908, 1491, "Figure 2-9b", rotation=270, ha='center', va='center', fontsize=20, fontweight='bold')
ov.text(2795, 34, "NOAA/NCDC Precipitation Station: MARINA 0.8 SSE, CA US", ha='right', va='center',
        fontsize=13.5)
ov.text(150, 235, "Average ground surface elevation for Test Slant Well = %.2f ft NAVD88" % ground_elev,
        ha='left', va='center', fontsize=19.5,
        bbox=dict(boxstyle='square,pad=0.25', fc='white', ec='none'))

ov.text(1526, 68, "TSW On/Off During Long-Term Pumping Test", ha='center', va='center', fontsize=13,
        fontweight='bold')
ov.text(2309, 68, "TSW On/Off After Long-Term Pumping Test", ha='center', va='center', fontsize=13,
        fontweight='bold')

ov.add_patch(Rectangle((1220, 85), 610, 483, fc='white', ec='k', lw=1.2))
ov.plot([1526, 1526], [85, 568], color='k', lw=1.2)
ov.add_patch(Rectangle((1857, 85), 610, 483, fc='white', ec='k', lw=1.2))
ov.plot([2162, 2162], [85, 568], color='k', lw=1.2)
ov.add_patch(Rectangle((2467, 85), 305, 260, fc='white', ec='k', lw=1.2))


def table_cols(cols, centers, heads, sep=' - '):
    for col, xc, hd in zip(cols, centers, heads):
        ov.text(xc, 99, hd, ha='center', va='center', fontsize=9, fontweight='bold')
        w = 56 if 'Off' in hd else 52
        ov.plot([xc - w / 2, xc + w / 2], [106, 106], color='k', lw=0.8)
        for i, s in enumerate(col):
            ov.text(xc, 118.3 + i * 16.28, s.replace(' - ', sep), ha='center', va='center', fontsize=9)


table_cols([t1_off_a, t1_on_a, t1_off_b, t1_on_b], [1293, 1450, 1600, 1755],
           ["Pump Off:", "Pump On:", "Pump Off:", "Pump On:"])
table_cols([t2_on_a, t2_off_a, t2_on_b, t2_off_b, t2_on_c, t2_off_c], [1931, 2088, 2235, 2392, 2541, 2699],
           ["Pump On:", "Pump Off:", "Pump On:", "Pump Off:", "Pump On:", "Pump Off:"], sep='  -  ')

fig.savefig("out.png", dpi=100)
